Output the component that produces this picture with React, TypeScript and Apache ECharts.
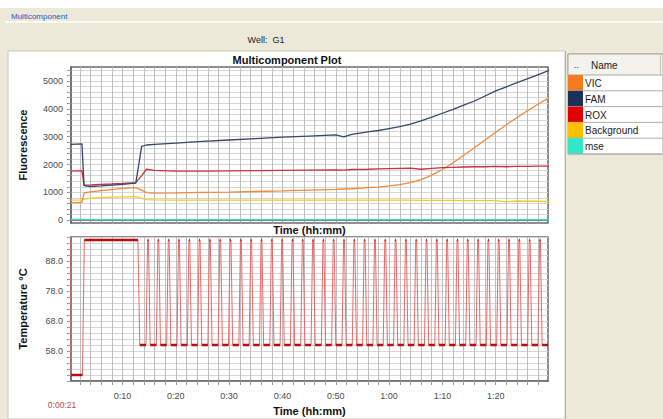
import React, { useEffect, useRef } from "react";
import * as echarts from "echarts";

// ---------- data ----------
const fluoTimes = [0.35, 2.4, 2.8, 4, 6, 8, 10, 12.5, 13.6, 14.5, 16, 20, 25, 30, 35, 40, 45, 50, 51.5, 53, 56, 58, 60, 62, 64, 66, 68, 70, 72, 74, 76, 78, 80, 82, 84, 86, 88, 90];
const famValues = [2720, 2740, 1240, 1210, 1230, 1260, 1290, 1330, 2650, 2700, 2720, 2770, 2830, 2880, 2930, 2980, 3020, 3060, 2990, 3080, 3170, 3220, 3290, 3360, 3450, 3570, 3700, 3840, 3980, 4130, 4280, 4460, 4640, 4790, 4940, 5080, 5230, 5380];
const roxValues = [1760, 1780, 1260, 1270, 1290, 1300, 1320, 1350, 1600, 1830, 1790, 1760, 1760, 1770, 1780, 1790, 1800, 1810, 1800, 1820, 1830, 1840, 1850, 1860, 1870, 1830, 1860, 1890, 1900, 1910, 1920, 1920, 1930, 1920, 1930, 1930, 1940, 1940];
const vicValues = [620, 640, 980, 1020, 1060, 1100, 1140, 1170, 1080, 990, 970, 980, 1000, 1010, 1030, 1050, 1080, 1110, 1120, 1130, 1170, 1190, 1230, 1280, 1350, 1460, 1620, 1820, 2060, 2330, 2600, 2880, 3160, 3430, 3690, 3940, 4170, 4400];
const backgroundValues = [720, 730, 760, 790, 810, 830, 840, 850, 780, 740, 730, 720, 720, 720, 720, 720, 720, 720, 720, 720, 720, 720, 720, 720, 720, 710, 710, 710, 710, 700, 700, 700, 700, 660, 690, 680, 680, 670];
const mseValues = [30, 30, 20, 20, 20, 20, 20, 20, 20, 20, 20, 20, 20, 20, 20, 20, 20, 20, 20, 20, 20, 20, 20, 20, 20, 20, 20, 20, 20, 20, 20, 20, 20, 20, 20, 20, 20, 20];

// temperature: initial hold stages, then cycle peaks (minutes)
const holdTimes = [0.36, 2.5, 2.85, 12.9, 13.25];
const holdTemps = [50, 50, 95, 95, 60];
const cyclePeakTimes = [14.8, 16.73, 18.67, 20.6, 22.54, 24.47, 26.4, 28.34, 30.27, 32.21, 34.14, 36.07, 38.01, 39.94, 41.88, 43.81, 45.74, 47.68, 49.61, 51.55, 53.48, 55.41, 57.35, 59.28, 61.22, 63.15, 65.08, 67.02, 68.95, 70.89, 72.82, 74.75, 76.69, 78.62, 80.56, 82.49, 84.42, 86.36, 88.3];
const TEMP_HIGH = 95;
const TEMP_LOW = 60;
const TEMP_FIRST = 96;

// ticks / labels
const timeTickValues = [2, 4, 6, 8, 10, 12, 14, 16, 18, 20, 22, 24, 26, 28, 30, 32, 34, 36, 38, 40, 42, 44, 46, 48, 50, 52, 54, 56, 58, 60, 62, 64, 66, 68, 70, 72, 74, 76, 78, 80, 82, 84, 86, 88];
const timeLabelValues = [10, 20, 30, 40, 50, 60, 70, 80];
const fluoTickValues = [0, 200, 400, 600, 800, 1000, 1200, 1400, 1600, 1800, 2000, 2200, 2400, 2600, 2800, 3000, 3200, 3400, 3600, 3800, 4000, 4200, 4400, 4600, 4800, 5000, 5200, 5400];
const fluoLabelValues = [0, 1000, 2000, 3000, 4000, 5000];
const tempLabelValues = [58, 68, 78, 88];

const legendNames = ["VIC", "FAM", "ROX", "Background", "mse"];
const legendColors = ["#F47B20", "#1B3158", "#E00000", "#FFC000", "#2EE8C8"];
const lineColors: Record<string, string> = {
  VIC: "#F0893A",
  FAM: "#34466A",
  ROX: "#CC3040",
  Background: "#F2CC2C",
  mse: "#38D8BE",
};

const X_MIN = 0.35;
const X_MAX = 89.8;

// ---------- helpers ----------
const FONT = '"Liberation Sans", Arial, sans-serif';
const fmtTime = (v: number) => {
  const h = Math.floor(v / 60);
  const m = Math.round(v - h * 60);
  return `${h}:${m < 10 ? "0" + m : m}`;
};

function buildTemp() {
  const line: any[] = [[X_MIN, TEMP_FIRST]];
  holdTimes.forEach((t, i) => line.push([t, holdTemps[i]]));
  const plate: any[] = [];
  plate.push([holdTimes[0], holdTemps[0]], [holdTimes[1], holdTemps[1]], [holdTimes[1], null]);
  plate.push([holdTimes[2], holdTemps[2]], [holdTimes[3], holdTemps[3]], [holdTimes[3], null]);
  plate.push([holdTimes[4], holdTemps[4]], [cyclePeakTimes[0] - 0.38, TEMP_LOW], [cyclePeakTimes[0] - 0.38, null]);
  cyclePeakTimes.forEach((s, i) => {
    line.push([s - 0.38, TEMP_LOW], [s - 0.08, TEMP_HIGH], [s + 0.08, TEMP_HIGH], [s + 0.4, TEMP_LOW]);
    plate.push([s - 0.08, TEMP_HIGH], [s + 0.08, TEMP_HIGH], [s + 0.08, null]);
    const next = i < cyclePeakTimes.length - 1 ? cyclePeakTimes[i + 1] - 0.38 : X_MAX;
    plate.push([s + 0.4, TEMP_LOW], [next, TEMP_LOW], [next, null]);
  });
  line.push([X_MAX, TEMP_LOW]);
  return { line, plate };
}

const fluoSeries = ["mse", "Background", "VIC", "ROX", "FAM"].map((name) => {
  const vals =
    name === "mse" ? mseValues : name === "Background" ? backgroundValues : name === "VIC" ? vicValues : name === "ROX" ? roxValues : famValues;
  return {
    type: "line",
    name,
    xAxisIndex: 0,
    yAxisIndex: 0,
    showSymbol: false,
    symbol: "none",
    lineStyle: { width: 1.3, color: lineColors[name] },
    itemStyle: { color: lineColors[name] },
    data: fluoTimes.map((t, i) => [t, vals[i]]),
    z: 3,
  };
});

const axisLineStyle = { lineStyle: { color: "#6A6A6A", width: 1.5 } };
const labelStyle = { color: "#4A4A4A", fontSize: 9, fontFamily: FONT };
const nameStyle = { color: "#111", fontSize: 11, fontWeight: "bold" as const, fontFamily: FONT };
const tickStyle = { length: 4, lineStyle: { color: "#9A9A9A" } };
const vGrid = { show: true, lineStyle: { color: "#BEBEBE", width: 1 } };
const hGrid = { show: true, lineStyle: { color: "#D6D6D6", width: 1 } };

function textEl(text: string, x: number, y: number, size: number, fill: string, align: string, bold = false) {
  return {
    type: "text",
    z: 10,
    style: {
      text, x, y, fill, fontSize: size, fontFamily: FONT, fontWeight: bold ? "bold" : "normal",
      align, verticalAlign: "middle", textAlign: align, textVerticalAlign: "middle",
    },
  };
}

function buildOption() {
  const temp = buildTemp();
  const graphic: any[] = [
    { type: "rect", z: -10, shape: { x: 0, y: 0, width: 663, height: 8 }, style: { fill: "#FFFFFF" } },
    { type: "line", z: -9, shape: { x1: 5, y1: 22, x2: 663, y2: 22 }, style: { stroke: "#FAF9F4", lineWidth: 2 } },
    { type: "rect", z: -9, shape: { x: 8, y: 51, width: 557, height: 368 }, style: { fill: "#FFFFFF", stroke: "#C9C7BA", lineWidth: 1 } },
    { type: "line", z: -8, shape: { x1: 565.5, y1: 51, x2: 565.5, y2: 419 }, style: { stroke: "#B5B3A5", lineWidth: 1 } },
    textEl("Multicomponent", 11, 16, 8, "#2455C3", "left"),
    textEl("Well:  G1", 266, 40, 9, "#222", "center"),
    textEl("Multicomponent Plot", 287, 60, 11, "#111", "center", true),
    textEl("0:00:21", 62, 405, 8.5, "#C04848", "center"),
    // legend table
    { type: "rect", z: 1, shape: { x: 568, y: 54, width: 95, height: 100 }, style: { fill: "#FFFFFF", stroke: "#A8A8A0", lineWidth: 1 } },
    { type: "rect", z: 1, shape: { x: 568, y: 54, width: 95, height: 21 }, style: { fill: "#F3F2EC", stroke: "#A8A8A0", lineWidth: 1 } },
    { type: "line", z: 2, shape: { x1: 660.5, y1: 54, x2: 660.5, y2: 75 }, style: { stroke: "#C8C6BC", lineWidth: 1 } },
    textEl("..", 574, 65, 9, "#333", "left"),
    textEl("Name", 591, 65, 10, "#222", "left"),
  ];
  const rowTop = 75;
  const rowH = 15.8;
  legendNames.forEach((name, i) => {
    const y = rowTop + i * rowH;
    graphic.push({ type: "rect", z: 2, shape: { x: 568, y, width: 15, height: rowH }, style: { fill: legendColors[i] } });
    graphic.push({ type: "line", z: 2, shape: { x1: 568, y1: y + rowH, x2: 663, y2: y + rowH }, style: { stroke: "#B0B0B0", lineWidth: 1 } });
    graphic.push(textEl(name, 585, y + rowH / 2 + 0.5, 10, "#222", "left"));
  });

  return {
    animation: false,
    backgroundColor: "#ECE9D8",
    textStyle: { fontFamily: FONT },
    graphic,
    grid: [
      { left: 71, right: 115, top: 67, height: 156, show: true, backgroundColor: "#FFFFFF", borderColor: "#6A6A6A", borderWidth: 1.5, containLabel: false },
      { left: 71, right: 115, top: 237, height: 144, show: true, backgroundColor: "#FFFFFF", borderColor: "#6A6A6A", borderWidth: 1.5, containLabel: false },
    ],
    xAxis: [
      {
        type: "value", gridIndex: 0, min: X_MIN, max: X_MAX,
        axisLine: axisLineStyle,
        axisTick: { show: true, ...tickStyle, customValues: timeTickValues },
        axisLabel: { show: false, customValues: timeLabelValues },
        splitLine: vGrid,
        name: "Time (hh:mm)", nameLocation: "middle", nameGap: 1, nameTextStyle: nameStyle,
      },
      {
        type: "value", gridIndex: 1, min: X_MIN, max: X_MAX,
        axisLine: axisLineStyle,
        axisTick: { show: true, ...tickStyle, customValues: timeTickValues },
        axisLabel: { ...labelStyle, margin: 10, customValues: timeLabelValues, formatter: (v: number) => fmtTime(v) },
        splitLine: vGrid,
        name: "Time (hh:mm)", nameLocation: "middle", nameGap: 24, nameTextStyle: nameStyle,
      },
    ],
    yAxis: [
      {
        type: "value", gridIndex: 0, min: -100, max: 5500,
        axisLine: { show: true, ...axisLineStyle },
        axisTick: { show: true, ...tickStyle, customValues: fluoTickValues },
        axisLabel: { ...labelStyle, margin: 8, customValues: fluoLabelValues, formatter: (v: number) => String(v) },
        splitLine: hGrid,
        name: "Fluorescence", nameLocation: "middle", nameGap: 43, nameRotate: 90, nameTextStyle: nameStyle,
      },
      {
        type: "value", gridIndex: 1, min: 48, max: 96, interval: 2,
        axisLine: { show: true, ...axisLineStyle },
        axisTick: { show: true, ...tickStyle },
        axisLabel: { ...labelStyle, margin: 8, customValues: tempLabelValues, formatter: (v: number) => v.toFixed(1) },
        splitLine: hGrid,
        name: "Temperature °C", nameLocation: "middle", nameGap: 43, nameRotate: 90, nameTextStyle: nameStyle,
      },
    ],
    series: [
      ...fluoSeries,
      {
        type: "line", name: "Temperature", xAxisIndex: 1, yAxisIndex: 1,
        showSymbol: false, symbol: "none",
        lineStyle: { width: 1, color: "#E46A6A" },
        itemStyle: { color: "#E46A6A" },
        data: temp.line, z: 3,
      },
      {
        type: "line", name: "Plateau", xAxisIndex: 1, yAxisIndex: 1,
        showSymbol: false, symbol: "none", connectNulls: false,
        lineStyle: { width: 2.4, color: "#BE0A0A" },
        itemStyle: { color: "#BE0A0A" },
        data: temp.plate, z: 4,
      },
    ],
  };
}

export default function App() {
  const ref = useRef<HTMLDivElement>(null);
  useEffect(() => {
    if (!ref.current) return;
    const chart = echarts.init(ref.current, null, { renderer: "svg" });
    chart.setOption(buildOption() as any);
    return () => chart.dispose();
  }, []);
  return <div ref={ref} style={{ position: "fixed", left: 0, top: 0, width: 663, height: 419 }} />;
}
